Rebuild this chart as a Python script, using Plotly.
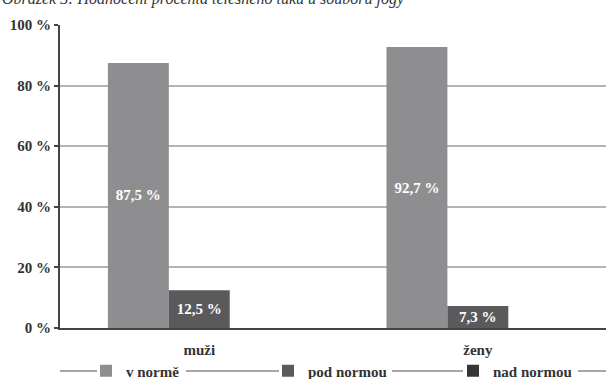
import plotly.graph_objects as go

categories = ["muži", "ženy"]
series_names = ["v normě", "pod normou", "nad normou"]
v_norme = [87.5, 92.7]
pod_normou = [12.5, 7.3]
nad_normou = [0, 0]
v_norme_labels = ["87,5 %", "92,7 %"]
pod_normou_labels = ["12,5 %", "7,3 %"]
y_ticks = [0, 20, 40, 60, 80, 100]
y_tick_labels = ["0 %", "20 %", "40 %", "60 %", "80 %", "100 %"]

FONT = "Liberation Serif"
FS = 15
W, H = 606, 379
ML, MR, MT, MB = 60, 0, 25, 51
PW = W - ML - MR
PH = H - MT - MB

colors = ["#8e8e90", "#5a5a5c", "#353535"]
label_font = dict(family=FONT, size=FS, color="white")


def px2x(px):
    return (px - ML) / PW


def py2y(py):
    return (H - MB - py) / PH


fig = go.Figure()
fig.add_trace(go.Bar(name="<b>" + series_names[0] + "</b>", x=categories, y=v_norme, text=v_norme_labels,
                     marker=dict(color=colors[0], line=dict(width=0)),
                     textposition="inside", insidetextanchor="middle", constraintext="none",
                     textfont=label_font, texttemplate="<b>%{text}</b>", hoverinfo="skip",
                     legend="legend"))
fig.add_trace(go.Bar(name="<b>" + series_names[1] + "</b>", x=categories, y=pod_normou, text=pod_normou_labels,
                     marker=dict(color=colors[1], line=dict(width=0)),
                     textposition="inside", insidetextanchor="middle", constraintext="none",
                     textfont=label_font, texttemplate="<b>%{text}</b>", hoverinfo="skip",
                     legend="legend2"))
fig.add_trace(go.Bar(name="<b>" + series_names[2] + "</b>", x=categories, y=nad_normou,
                     marker=dict(color=colors[2], line=dict(width=0)), hoverinfo="skip",
                     legend="legend3"))

leg_py = 371
leg_y = py2y(leg_py)
for a, b in [(60, 97), (186, 279), (392, 463), (578, 606)]:
    fig.add_shape(type="line", xref="paper", yref="paper", x0=px2x(a), x1=px2x(b),
                  y0=leg_y, y1=leg_y, line=dict(color="#8a8a8a", width=1.5), layer="above")

# cropped caption at top
fig.add_annotation(text="<i>Obrázek 3: Hodnocení procenta tělesného tuku u souboru jógy</i>",
                   xref="paper", yref="paper", x=px2x(0), y=py2y(10), xanchor="left", yanchor="bottom",
                   showarrow=False, font=dict(family=FONT, size=16, color="#333333"))

leg_common = dict(orientation="h", xanchor="left", y=leg_y, yanchor="middle",
                  font=dict(family=FONT, size=FS, color="#333333"),
                  bgcolor="rgba(0,0,0,0)", itemclick=False, itemdoubleclick=False)

fig.update_layout(
    width=W, height=H,
    margin=dict(l=ML, r=MR, t=MT, b=MB, pad=0, autoexpand=False),
    paper_bgcolor="white", plot_bgcolor="white",
    barmode="group", bargap=0.344, bargroupgap=0,
    font=dict(family=FONT, size=FS, color="#333333"),
    showlegend=True,
    legend=dict(x=px2x(86), **leg_common),
    legend2=dict(x=px2x(268), **leg_common),
    legend3=dict(x=px2x(453), **leg_common),
    xaxis=dict(range=[-0.5, 1.46], showline=True, linecolor="#444444", linewidth=2,
               showgrid=False, ticks="", ticklabelstandoff=7,
               tickfont=dict(family=FONT, size=FS, color="#333333"),
               tickvals=categories, ticktext=["<b>" + c + "</b>" for c in categories]),
    yaxis=dict(range=[0, 100], tickvals=y_ticks,
               ticktext=["<b>" + t + "</b>" for t in y_tick_labels],
               showgrid=True, gridcolor="#b4b4b4", gridwidth=1.5,
               showline=True, linecolor="#444444", linewidth=2,
               ticks="outside", ticklen=4, tickcolor="#444444", tickwidth=1.5,
               tickfont=dict(family=FONT, size=FS, color="#333333"),
               zeroline=False, fixedrange=True),
)
fig.write_html("out.html")
